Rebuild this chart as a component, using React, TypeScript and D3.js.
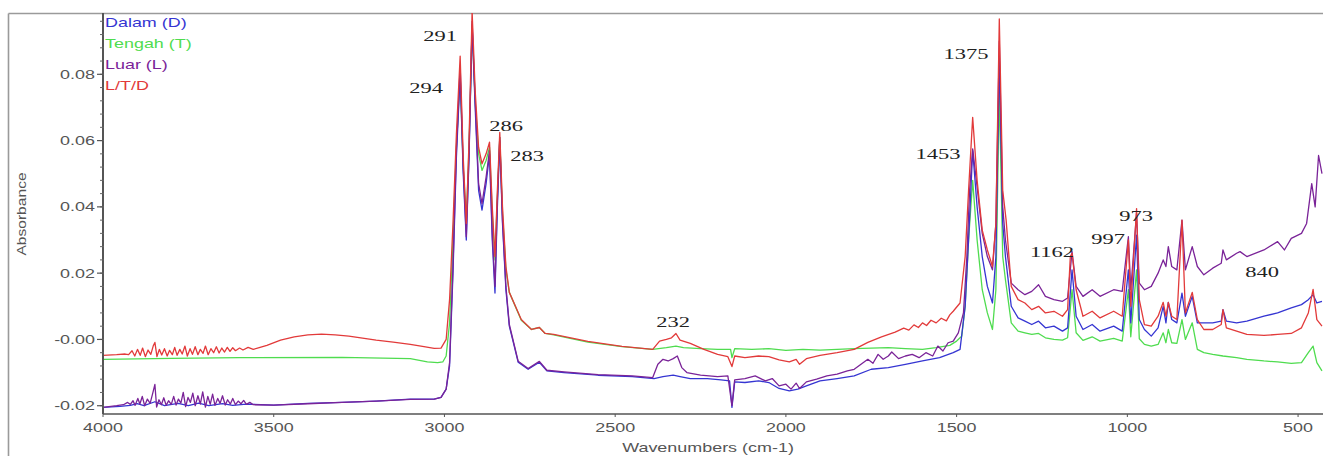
import React from "react";
import * as d3 from "d3";

// FTIR spectra, [wavenumber, absorbance]
const dalam: [number, number][] = [
  [4000, -0.0205], [3950, -0.0202], [3920, -0.0199], [3900, -0.0194], [3880, -0.0200],
  [3848, -0.0188], [3820, -0.0200], [3780, -0.0193], [3750, -0.0200], [3720, -0.0192],
  [3690, -0.0200], [3650, -0.0194], [3620, -0.0199], [3580, -0.0195], [3500, -0.0198],
  [3400, -0.0193], [3300, -0.019], [3200, -0.0186], [3100, -0.018], [3030, -0.018],
  [3010, -0.0175], [2995, -0.015], [2985, -0.008], [2975, 0.02], [2965, 0.055],
  [2954, 0.08], [2945, 0.05], [2936, 0.03], [2928, 0.055], [2919, 0.095], [2910, 0.07],
  [2900, 0.045], [2890, 0.039], [2878, 0.047], [2868, 0.056], [2860, 0.03], [2852, 0.014],
  [2845, 0.04], [2838, 0.06], [2830, 0.035], [2820, 0.015], [2810, 0.004], [2784, -0.0069],
  [2755, -0.009], [2722, -0.0069], [2700, -0.0095], [2650, -0.01], [2550, -0.0108],
  [2450, -0.0112], [2386, -0.0118], [2360, -0.0112], [2330, -0.0108], [2310, -0.0112],
  [2280, -0.0118], [2230, -0.0118], [2190, -0.0122], [2165, -0.0125], [2158, -0.0205],
  [2150, -0.0128], [2120, -0.013], [2080, -0.0125], [2050, -0.013], [2020, -0.0148],
  [1990, -0.0155], [1965, -0.015], [1940, -0.014], [1900, -0.0125], [1850, -0.0118],
  [1800, -0.011], [1750, -0.009], [1700, -0.0085], [1650, -0.0075], [1600, -0.0065],
  [1550, -0.0055], [1510, -0.004], [1490, -0.003], [1475, 0.01], [1465, 0.03],
  [1453, 0.057], [1440, 0.04], [1425, 0.025], [1410, 0.016], [1395, 0.011], [1385, 0.025],
  [1375, 0.085], [1365, 0.035], [1357, 0.025], [1340, 0.01], [1320, 0.0065], [1300, 0.0055],
  [1280, 0.0045], [1260, 0.0055], [1240, 0.0035], [1215, 0.004], [1190, 0.0025],
  [1175, 0.0035], [1162, 0.021], [1150, 0.007], [1130, 0.003], [1103, 0.0045],
  [1080, 0.0025], [1040, 0.004], [1015, 0.0025], [997, 0.021], [990, 0.005], [973, 0.0315],
  [965, 0.006], [950, 0.003], [930, 0.001], [910, 0.0035], [895, 0.01], [887, 0.005],
  [880, 0.0112], [870, 0.006], [855, 0.005], [840, 0.014], [830, 0.007], [810, 0.013],
  [795, 0.005], [776, 0.005], [750, 0.005], [725, 0.0055], [720, 0.009], [710, 0.0055],
  [680, 0.005], [650, 0.0055], [600, 0.007], [560, 0.008], [520, 0.0095], [490, 0.0105],
  [470, 0.012], [456, 0.0135], [445, 0.011], [430, 0.0115],
];

const tengah: [number, number][] = [
  [4000, -0.006], [3800, -0.0057], [3600, -0.0055], [3300, -0.0054], [3100, -0.0058],
  [3050, -0.0068], [3020, -0.007], [3005, -0.0068], [2995, -0.005], [2985, 0.005],
  [2975, 0.03], [2965, 0.058], [2954, 0.0795], [2945, 0.052], [2936, 0.036], [2928, 0.058],
  [2919, 0.094], [2910, 0.072], [2900, 0.056], [2890, 0.051], [2878, 0.054], [2868, 0.058],
  [2860, 0.038], [2852, 0.024], [2845, 0.043], [2838, 0.061], [2830, 0.038], [2820, 0.021],
  [2810, 0.0142], [2775, 0.0058], [2745, 0.003], [2722, 0.0036], [2705, 0.0018],
  [2680, 0.0014], [2580, -0.0008], [2480, -0.0022], [2390, -0.003], [2350, -0.0025],
  [2322, -0.002], [2300, -0.0025], [2250, -0.0028], [2200, -0.003], [2162, -0.003],
  [2158, -0.0055], [2150, -0.0028], [2100, -0.003], [2050, -0.0028], [2000, -0.0033],
  [1950, -0.003], [1900, -0.0032], [1800, -0.0028], [1700, -0.0025], [1650, -0.0028],
  [1600, -0.003], [1560, -0.0025], [1520, -0.0018], [1500, -0.0005], [1485, 0.001],
  [1475, 0.01], [1465, 0.03], [1453, 0.048], [1440, 0.03], [1425, 0.015], [1410, 0.008],
  [1395, 0.003], [1385, 0.015], [1375, 0.075], [1365, 0.025], [1357, 0.018], [1340, 0.005],
  [1320, 0.0025], [1300, 0.002], [1280, 0.0015], [1260, 0.0018], [1240, 0.0005],
  [1215, 0.0], [1190, -0.0002], [1175, 0.0005], [1162, 0.015], [1150, 0.002],
  [1130, -0.0003], [1103, 0.0008], [1080, -0.0005], [1040, 0.0003], [1015, -0.0005],
  [997, 0.015], [990, 0.0008], [973, 0.021], [965, 0.0002], [950, -0.0015], [930, -0.002],
  [910, -0.0015], [895, 0.002], [887, -0.001], [880, 0.003], [870, -0.001], [855, -0.0012],
  [840, 0.006], [830, 0.0], [810, 0.005], [795, -0.003], [776, -0.004], [750, -0.0045],
  [720, -0.005], [680, -0.0055], [650, -0.006], [600, -0.0065], [560, -0.0068],
  [520, -0.0072], [490, -0.007], [470, -0.004], [456, -0.002], [445, -0.007], [430, -0.0095],
];

const luar: [number, number][] = [
  [4000, -0.0205], [3960, -0.02], [3940, -0.0197], [3928, -0.0190], [3920, -0.0196],
  [3912, -0.0185], [3906, -0.0199], [3898, -0.0178], [3892, -0.0195], [3885, -0.0172],
  [3878, -0.02], [3870, -0.018], [3862, -0.0193], [3855, -0.0165], [3848, -0.0136],
  [3843, -0.0204], [3836, -0.0182], [3829, -0.0197], [3822, -0.0176], [3815, -0.0199],
  [3808, -0.0185], [3800, -0.0196], [3793, -0.0172], [3786, -0.0198], [3779, -0.018],
  [3772, -0.0192], [3765, -0.016], [3758, -0.0203], [3751, -0.0175], [3744, -0.019],
  [3737, -0.0162], [3730, -0.02], [3722, -0.017], [3715, -0.0195], [3708, -0.0158],
  [3700, -0.0204], [3693, -0.0172], [3686, -0.0196], [3679, -0.0165], [3672, -0.0199],
  [3664, -0.0178], [3657, -0.0193], [3650, -0.017], [3642, -0.0198], [3635, -0.0182],
  [3627, -0.0195], [3620, -0.0178], [3612, -0.0197], [3604, -0.0186], [3596, -0.0194],
  [3588, -0.0184], [3580, -0.0196], [3570, -0.019], [3560, -0.0197], [3500, -0.0198],
  [3400, -0.0194], [3300, -0.019], [3200, -0.0186], [3100, -0.0181], [3030, -0.018],
  [3010, -0.0175], [2995, -0.015], [2985, -0.007], [2975, 0.022], [2965, 0.057],
  [2954, 0.0825], [2945, 0.052], [2936, 0.031], [2928, 0.056], [2919, 0.096], [2910, 0.072],
  [2900, 0.047], [2890, 0.041], [2878, 0.049], [2868, 0.057], [2860, 0.032], [2852, 0.016],
  [2845, 0.042], [2838, 0.061], [2830, 0.036], [2820, 0.016], [2810, 0.0045],
  [2784, -0.0066], [2755, -0.0088], [2722, -0.0066], [2700, -0.0093], [2650, -0.0098],
  [2550, -0.0106], [2450, -0.011], [2390, -0.0115], [2375, -0.0075], [2360, -0.006],
  [2345, -0.0065], [2330, -0.0058], [2318, -0.005], [2305, -0.0085], [2290, -0.01],
  [2250, -0.0108], [2200, -0.0112], [2170, -0.011], [2158, -0.02], [2150, -0.0122],
  [2120, -0.0118], [2090, -0.011], [2060, -0.0125], [2040, -0.0118], [2020, -0.014],
  [2000, -0.0135], [1985, -0.015], [1970, -0.0132], [1960, -0.0148], [1940, -0.0128],
  [1910, -0.012], [1880, -0.011], [1850, -0.0105], [1820, -0.0095], [1800, -0.009],
  [1780, -0.0075], [1760, -0.006], [1745, -0.0072], [1730, -0.0045], [1715, -0.006],
  [1700, -0.005], [1690, -0.0038], [1670, -0.0058], [1650, -0.005], [1630, -0.0045],
  [1610, -0.0055], [1590, -0.004], [1570, -0.005], [1555, -0.002], [1540, -0.0035],
  [1525, -0.001], [1510, -0.0005], [1495, 0.002], [1480, 0.008], [1470, 0.025],
  [1462, 0.045], [1453, 0.0575], [1440, 0.046], [1425, 0.032], [1410, 0.025], [1395, 0.021],
  [1385, 0.035], [1375, 0.09], [1365, 0.04], [1357, 0.03], [1340, 0.017], [1320, 0.015],
  [1300, 0.0135], [1280, 0.0145], [1260, 0.0165], [1240, 0.013], [1215, 0.012],
  [1190, 0.0115], [1175, 0.0125], [1162, 0.0265], [1150, 0.016], [1130, 0.013],
  [1103, 0.015], [1080, 0.013], [1040, 0.015], [1015, 0.0145], [997, 0.031], [990, 0.015],
  [973, 0.038], [965, 0.017], [950, 0.015], [930, 0.016], [910, 0.02], [895, 0.024],
  [887, 0.022], [880, 0.028], [870, 0.022], [855, 0.021], [840, 0.036], [830, 0.021],
  [810, 0.028], [795, 0.022], [776, 0.0195], [750, 0.0215], [725, 0.023], [720, 0.027],
  [710, 0.024], [680, 0.026], [670, 0.0265], [650, 0.025], [600, 0.027], [560, 0.0295],
  [540, 0.027], [520, 0.0305], [490, 0.032], [475, 0.035], [460, 0.047], [450, 0.04],
  [440, 0.0555], [430, 0.05],
];

const ltd: [number, number][] = [
  [4000, -0.0048], [3960, -0.0046], [3935, -0.0044], [3925, -0.0046], [3915, -0.0034],
  [3907, -0.005], [3899, -0.003], [3891, -0.0048], [3884, -0.0026], [3876, -0.0052],
  [3868, -0.0032], [3860, -0.0045], [3853, -0.002], [3848, -0.0009], [3842, -0.0052],
  [3835, -0.003], [3828, -0.0047], [3820, -0.0028], [3812, -0.005], [3805, -0.0033],
  [3797, -0.0046], [3790, -0.0024], [3783, -0.0048], [3775, -0.003], [3768, -0.0044],
  [3760, -0.002], [3753, -0.005], [3745, -0.0028], [3738, -0.0045], [3730, -0.0022],
  [3722, -0.0046], [3715, -0.003], [3707, -0.0042], [3700, -0.002], [3692, -0.0046],
  [3684, -0.0028], [3676, -0.004], [3668, -0.0022], [3660, -0.0041], [3652, -0.0026],
  [3644, -0.0038], [3636, -0.0024], [3628, -0.0036], [3620, -0.0025], [3612, -0.0034],
  [3600, -0.0026], [3590, -0.0032], [3575, -0.0024], [3560, -0.003], [3540, -0.0024],
  [3520, -0.0018], [3480, -0.0002], [3440, 0.0008], [3400, 0.0014], [3360, 0.0016],
  [3320, 0.0014], [3280, 0.001], [3240, 0.0004], [3200, -0.0002], [3150, -0.0008],
  [3100, -0.0015], [3060, -0.0022], [3030, -0.0027], [3010, -0.0026], [2995, 0.0],
  [2985, 0.012], [2975, 0.035], [2965, 0.062], [2954, 0.0855], [2945, 0.055], [2936, 0.035],
  [2928, 0.06], [2919, 0.099], [2910, 0.075], [2900, 0.058], [2890, 0.053], [2878, 0.056],
  [2868, 0.0595], [2860, 0.04], [2852, 0.025], [2845, 0.045], [2838, 0.0625], [2830, 0.04],
  [2820, 0.022], [2810, 0.0142], [2775, 0.006], [2745, 0.003], [2722, 0.0036],
  [2705, 0.0018], [2680, 0.0015], [2580, -0.0006], [2480, -0.0021], [2390, -0.003],
  [2370, -0.0005], [2350, 0.0], [2335, 0.0005], [2322, 0.0018], [2310, -0.0002],
  [2280, -0.0012], [2240, -0.003], [2200, -0.0045], [2170, -0.0052], [2158, -0.0082],
  [2150, -0.005], [2120, -0.0055], [2080, -0.005], [2050, -0.0052], [2020, -0.0062],
  [1990, -0.0068], [1970, -0.006], [1960, -0.0075], [1940, -0.0058], [1900, -0.0048],
  [1850, -0.004], [1800, -0.003], [1760, -0.0009], [1720, 0.0008], [1680, 0.0022],
  [1655, 0.0034], [1640, 0.0028], [1625, 0.0044], [1612, 0.0036], [1600, 0.005],
  [1588, 0.0042], [1575, 0.0058], [1560, 0.005], [1545, 0.0064], [1530, 0.0056],
  [1520, 0.0074], [1510, 0.0085], [1490, 0.011], [1475, 0.025], [1465, 0.045],
  [1453, 0.067], [1440, 0.048], [1425, 0.033], [1410, 0.027], [1395, 0.022], [1385, 0.035],
  [1375, 0.0967], [1365, 0.045], [1355, 0.036], [1340, 0.016], [1320, 0.012], [1300, 0.011],
  [1280, 0.009], [1260, 0.01], [1240, 0.008], [1215, 0.0085], [1190, 0.007], [1175, 0.009],
  [1167, 0.025], [1162, 0.026], [1150, 0.015], [1130, 0.007], [1103, 0.0085],
  [1080, 0.0065], [1040, 0.0085], [1015, 0.007], [997, 0.03], [990, 0.01], [973, 0.0395],
  [965, 0.012], [950, 0.0045], [930, 0.004], [910, 0.007], [895, 0.0112], [887, 0.007],
  [880, 0.0112], [870, 0.007], [855, 0.006], [840, 0.036], [830, 0.008], [810, 0.0142],
  [795, 0.006], [776, 0.003], [750, 0.003], [725, 0.0045], [720, 0.009], [710, 0.0035],
  [680, 0.0025], [650, 0.0015], [600, 0.0012], [560, 0.0015], [520, 0.0018], [490, 0.0035],
  [470, 0.008], [456, 0.0151], [445, 0.006], [430, 0.004],
];

const seriesNames = ["Dalam (D)", "Tengah (T)", "Luar (L)", "L/T/D"];
const seriesColors = ["#3535d2", "#4fdc4f", "#7a2398", "#e23a3a"];
const seriesData = [dalam, tengah, luar, ltd];
const drawOrder = [1, 0, 2, 3];

const xTicks = [4000, 3500, 3000, 2500, 2000, 1500, 1000, 500];
const yTicks = [0.08, 0.06, 0.04, 0.02, 0, -0.02];
const yTickLabels = ["0.08", "0.06", "0.04", "0.02", "-0.00", "-0.02"];

const peakLabels = ["291", "294", "286", "283", "232", "1453", "1375", "1162", "997", "973", "840"];
const peakPos: [number, number][] = [
  [440, 36], [426, 88], [506, 126], [527, 156], [673, 322], [938, 154],
  [966, 54], [1052, 252], [1108, 239], [1136, 216], [1262, 272],
];

const W = 1323;
const H = 456;
const left = 103;
const top = 13;
const bottom = 414;

const x = d3.scaleLinear().domain([4000, 427]).range([left, W]);
const y = d3.scaleLinear().domain([-0.0225, 0.0985]).range([bottom, top]);

const line = d3
  .line<[number, number]>()
  .x((d) => x(d[0]))
  .y((d) => y(d[1]));

const sans = "'Liberation Sans', Arial, sans-serif";
const serif = "'Liberation Serif', 'Times New Roman', serif";

// text squeezed the way the reference image is stretched sideways
function T({ px, py, sx = 1.38, anchor = "start", size = 13, fill = "#555", family = sans, rotate = 0, children }: any) {
  return (
    <text
      transform={`translate(${px},${py}) rotate(${rotate}) scale(${sx},1)`}
      textAnchor={anchor}
      fontSize={size}
      fontFamily={family}
      fill={fill}
      dominantBaseline="central"
    >
      {children}
    </text>
  );
}

export default function App() {
  const minor = d3.range(-0.02, 0.0985, 0.004);
  return (
    <div style={{ position: "absolute", left: 0, top: 0 }}>
      <svg width={W} height={H} style={{ display: "block", background: "#fff" }}>
        <defs>
          <clipPath id="plot">
            <rect x={left} y={top} width={W - left} height={bottom - top} />
          </clipPath>
        </defs>
        {/* outer frame */}
        <line x1={8.5} y1={13.5} x2={W} y2={13.5} stroke="#9a9a9a" strokeWidth={1.6} />
        <line x1={8.5} y1={13.5} x2={8.5} y2={H} stroke="#9a9a9a" strokeWidth={1.6} />

        <g clipPath="url(#plot)">
          {drawOrder.map((i) => (
            <path
              key={i}
              d={line(seriesData[i]) || ""}
              fill="none"
              stroke={seriesColors[i]}
              strokeWidth={1.3}
              strokeLinejoin="round"
            />
          ))}
        </g>

        {/* axes */}
        <line x1={left} y1={top} x2={left} y2={bottom} stroke="#555" strokeWidth={2} />
        <line x1={left} y1={bottom} x2={W} y2={bottom} stroke="#555" strokeWidth={1.6} />
        {minor.map((v, i) => (
          <line key={"m" + i} x1={left - 3} x2={left + 1} y1={y(v)} y2={y(v)} stroke="#666" strokeWidth={1} />
        ))}
        {yTicks.map((v, i) => (
          <g key={"y" + i}>
            <line x1={left - 6} x2={left} y1={y(v)} y2={y(v)} stroke="#555" strokeWidth={1.2} />
            <T px={left - 8} py={y(v)} anchor="end">
              {yTickLabels[i]}
            </T>
          </g>
        ))}
        {xTicks.map((v, i) => (
          <g key={"x" + i}>
            <line x1={x(v)} x2={x(v)} y1={bottom} y2={bottom + 3} stroke="#555" strokeWidth={1} />
            <T px={x(v)} py={427} anchor="middle">
              {v}
            </T>
          </g>
        ))}
        <T px={708} py={447} anchor="middle">
          Wavenumbers (cm-1)
        </T>
        <T px={22} py={214} anchor="middle" rotate={-90} sx={1.3} size={12}>
          Absorbance
        </T>

        {/* legend */}
        {seriesNames.map((n, i) => (
          <T key={n} px={105} py={22 + i * 21} fill={seriesColors[i]} size={13}>
            {n}
          </T>
        ))}

        {/* peak annotations */}
        {peakLabels.map((p, i) => (
          <T key={p} px={peakPos[i][0]} py={peakPos[i][1]} anchor="middle" family={serif} size={15} sx={1.5} fill="#222">
            {p}
          </T>
        ))}
      </svg>
    </div>
  );
}
